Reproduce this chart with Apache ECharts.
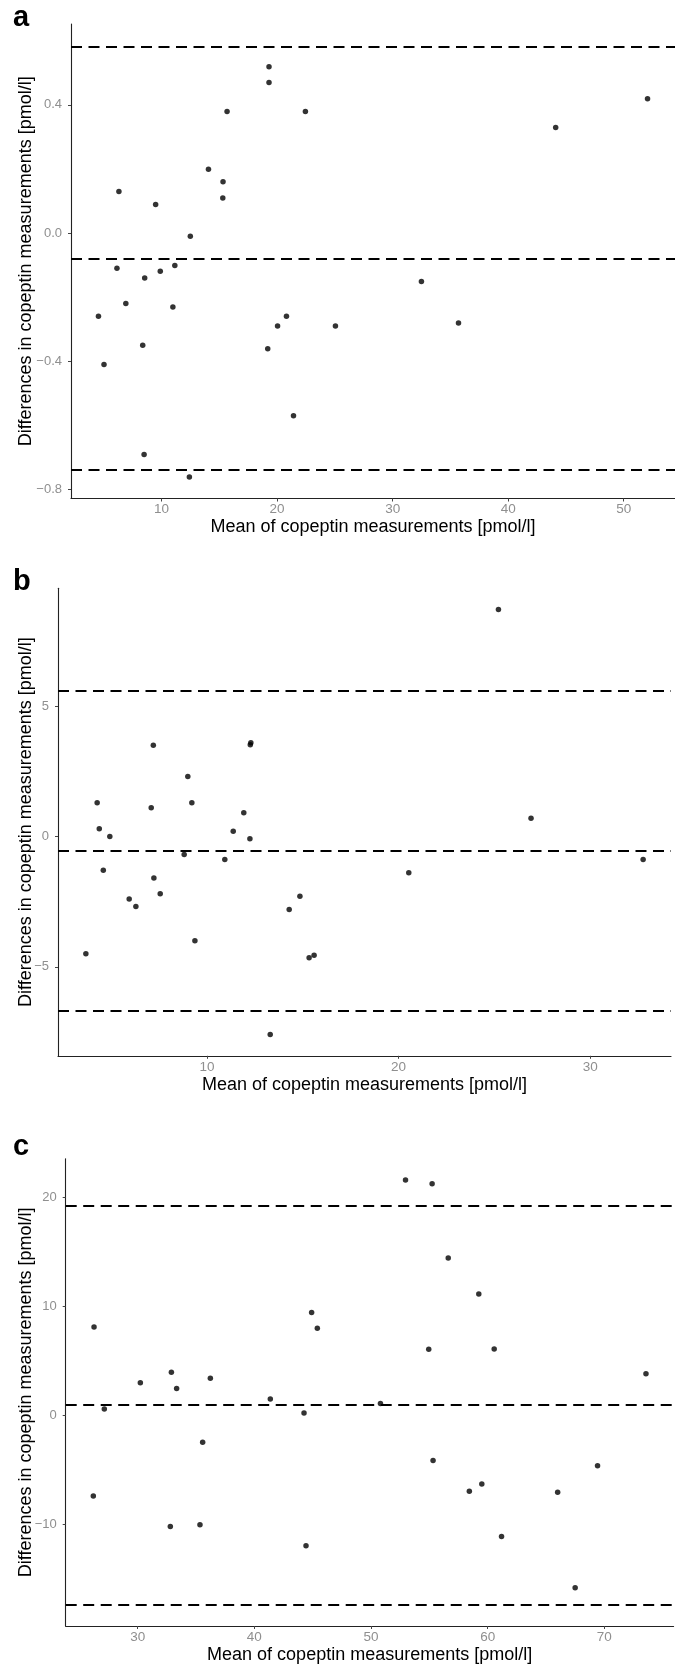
<!DOCTYPE html>
<html>
<head>
<meta charset="utf-8">
<script src="https://cdn.jsdelivr.net/npm/echarts@6/dist/echarts.min.js"></script>
<style>
html,body{margin:0;padding:0;background:#fff;}
#chart{width:675px;height:1666px;}
</style>
</head>
<body>
<div id="chart"></div>
<script>
// ---- Panel a ----
const meanA = [19.30,19.30,15.67,22.45,14.06,15.32,15.30,6.31,9.49,12.49,6.14,11.15,9.89,8.54,6.91,10.98,4.54,20.81,20.04,25.05,8.37,19.19,5.02,21.42,8.49,12.41,44.11,52.06,32.49,35.70];
const diffA = [0.519,0.470,0.379,0.379,0.199,0.160,0.109,0.130,0.089,-0.010,-0.110,-0.101,-0.119,-0.140,-0.220,-0.231,-0.260,-0.260,-0.290,-0.290,-0.350,-0.361,-0.410,-0.570,-0.691,-0.761,0.329,0.419,-0.151,-0.281];
const limitsA = [0.585,-0.080,-0.745];
const xTicksA = [10,20,30,40,50];
const yTicksA = [-0.8,-0.4,0.0,0.4];

// ---- Panel b ----
const meanB = [3.68,4.27,4.38,4.93,4.59,5.94,6.29,7.20,7.09,7.23,7.56,9.00,9.21,8.81,9.37,10.93,11.37,11.92,12.24,12.26,12.29,14.29,14.85,15.33,15.59,13.30,25.21,26.91,20.53,32.76];
const diffB = [-4.50,1.29,0.29,0.00,-1.30,-2.40,-2.69,3.50,1.10,-1.60,-2.20,2.30,1.29,-0.69,-4.00,-0.89,0.20,0.91,-0.09,3.51,3.59,-2.80,-2.30,-4.65,-4.56,-7.60,8.70,0.70,-1.39,-0.89];
const limitsB = [5.59,-0.55,-6.69];
const xTicksB = [10,20,30];
const yTicksB = [-5,0,5];

// ---- Panel c ----
const meanC = [26.26,26.20,27.14,30.23,32.89,33.34,36.23,35.57,32.80,35.34,41.37,44.26,44.43,44.91,45.40,52.96,55.24,56.62,59.24,54.95,60.56,73.57,50.81,55.32,58.43,59.50,66.00,69.42,61.19,67.50];
const diffC = [8.10,-7.39,0.58,2.98,3.95,2.46,3.40,-2.46,-10.18,-10.02,1.49,0.23,-11.93,9.43,7.97,21.56,21.20,14.42,11.12,6.06,6.09,3.82,1.10,-4.12,-6.94,-6.29,-7.03,-4.60,-11.09,-15.79];
const limitsC = [19.22,0.94,-17.34];
const xTicksC = [30,40,50,60,70];
const yTicksC = [-10,0,10,20];

const panelLabels = ['a','b','c'];
const xTitle = 'Mean of copeptin measurements [pmol/l]';
const yTitle = 'Differences in copeptin measurements [pmol/l]';

const FONT = '"Liberation Sans", Arial, Helvetica, sans-serif';

function expand(vals){
  const mn = Math.min.apply(null, vals), mx = Math.max.apply(null, vals);
  const d = (mx - mn) * 0.05;
  return [mn - d, mx + d];
}
function minusFmt(dec){
  return function(v){
    let s = dec ? Number(v).toFixed(dec) : String(Math.round(v));
    return s.replace('-', '\u2212');
  };
}

const panels = [
  {mean: meanA, diff: diffA, lim: limitsA, xt: xTicksA, yt: yTicksA, dec: 1,
   grid: {left: 71, right: -5, top: 24, height: 474.5}, yGap: 36},
  {mean: meanB, diff: diffB, lim: limitsB, xt: xTicksB, yt: yTicksB, dec: 0,
   grid: {left: 58, right: 4, top: 588.3, height: 467.5}, yGap: 23},
  {mean: meanC, diff: diffC, lim: limitsC, xt: xTicksC, yt: yTicksC, dec: 0,
   grid: {left: 65.7, right: 1.4, top: 1158.7, height: 467.3}, yGap: 31}
];

const grids = [], xAxes = [], yAxes = [], series = [];
panels.forEach(function(p, i){
  grids.push(p.grid);
  const xr = expand(p.mean);
  const yr = expand(p.diff.concat(p.lim));
  xAxes.push({
    type: 'value', gridIndex: i, min: xr[0], max: xr[1],
    splitLine: {show: false},
    axisLine: {show: true, onZero: false, lineStyle: {color: '#222', width: 1.1}},
    axisTick: {show: true, length: 3, customValues: p.xt, lineStyle: {color: '#444', width: 1}},
    axisLabel: {customValues: p.xt, color: '#8f8f8f', fontSize: 13.5, fontFamily: FONT, margin: 4,
                formatter: minusFmt(0)},
    name: xTitle, nameLocation: 'middle', nameGap: 20, nameMoveOverlap: false,
    nameTextStyle: {color: '#000', fontSize: 18, fontFamily: FONT}
  });
  yAxes.push({
    type: 'value', gridIndex: i, min: yr[0], max: yr[1],
    splitLine: {show: false},
    axisLine: {show: true, onZero: false, lineStyle: {color: '#222', width: 1.1}},
    axisTick: {show: true, length: 3, customValues: p.yt, lineStyle: {color: '#444', width: 1}},
    axisLabel: {customValues: p.yt, color: '#8f8f8f', fontSize: 13, fontFamily: FONT, margin: 9,
                formatter: minusFmt(p.dec)},
    name: yTitle, nameLocation: 'middle', nameGap: p.yGap, nameRotate: 90, nameMoveOverlap: false,
    nameTextStyle: {color: '#000', fontSize: 18, fontFamily: FONT}
  });
  series.push({
    type: 'scatter', xAxisIndex: i, yAxisIndex: i,
    data: p.mean.map(function(m, k){ return [m, p.diff[k]]; }),
    symbol: 'circle', symbolSize: 5.5,
    itemStyle: {color: '#000'},
    silent: true,
    markLine: {
      silent: true, symbol: ['none','none'],
      label: {show: false},
      lineStyle: {color: '#000', width: 2, type: [11, 6.5]},
      data: p.lim.map(function(v){ return {yAxis: v}; })
    }
  });
});

const labelY = [35, 599, 1164];
const graphics = panelLabels.map(function(t, i){
  return {type: 'text', left: 13, top: labelY[i] - 32,
          style: {text: t, fontSize: 29, fontWeight: 'bold', fontFamily: FONT, fill: '#000'}};
});

const chart = echarts.init(document.getElementById('chart'), null, {renderer: 'canvas'});
chart.setOption({
  animation: false,
  backgroundColor: '#fff',
  grid: grids,
  xAxis: xAxes,
  yAxis: yAxes,
  series: series,
  graphic: graphics
});
</script>
</body>
</html>
